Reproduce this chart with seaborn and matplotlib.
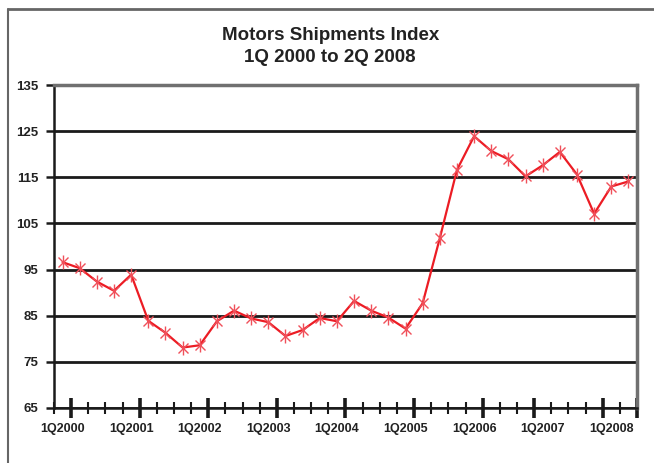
import numpy as np
import pandas as pd
import matplotlib
matplotlib.use('Agg')
import matplotlib.pyplot as plt
from matplotlib.lines import Line2D
import seaborn as sns

# quarterly index, 1Q2000 .. 2Q2008
quarters = ['%dQ%d' % (q, y) for y in range(2000, 2009) for q in range(1, 5)][:34]
index_values = [96.6, 95.3, 92.4, 90.4, 93.9, 83.9, 81.3, 78.1, 78.6, 83.8,
                86.1, 84.4, 83.6, 80.6, 81.9, 84.5, 83.8, 88.2, 86.1, 84.6,
                82.2, 87.7, 101.8, 116.6, 123.9, 120.7, 118.9, 115.2, 117.6, 120.5,
                115.6, 107.1, 113.0, 114.1]
y_ticks = [65, 75, 85, 95, 105, 115, 125, 135]
x_labels = ['1Q2000', '1Q2001', '1Q2002', '1Q2003', '1Q2004',
            '1Q2005', '1Q2006', '1Q2007', '1Q2008']

df = pd.DataFrame({'quarter': quarters, 'pos': np.arange(len(quarters)),
                   'value': index_values})

sns.set_style('white')
plt.rcParams['font.family'] = ['Liberation Sans', 'DejaVu Sans']

fig = plt.figure(figsize=(6.54, 4.63), dpi=100)
ax = fig.add_axes([54 / 654, 55 / 463, 583 / 654, 323 / 463])

red = '#ec1c24'
sns.lineplot(data=df, x='pos', y='value', ax=ax, color=red, lw=1.6,
             marker='x', markersize=7, markeredgecolor='#f0505a',
             markeredgewidth=1.0, zorder=5)
sns.scatterplot(data=df, x='pos', y='value', ax=ax, marker='|', s=90,
                color='#f0505a', linewidth=1.0, zorder=6)

ax.set_xlim(-0.5, len(quarters) - 0.5)
ax.set_ylim(65, 135)
ax.set_yticks(y_ticks)
ax.set_yticklabels([str(v) for v in y_ticks], fontsize=9.5, fontweight='bold',
                   color='#222222')
ax.yaxis.grid(True, color='#1a1a1a', lw=2)
ax.set_axisbelow(True)
ax.tick_params(axis='y', left=True, direction='out', length=6, width=1.8,
               color='#1a1a1a', pad=5)

# category boundaries as ticks, labels on each 1Q point
minor_pos = np.arange(len(quarters) + 1) - 0.5
major_pos = np.array([1, 5, 9, 13, 17, 21, 25, 28, 32, 34]) - 0.5
ax.set_xticks(major_pos)
ax.set_xticklabels([])
ax.set_xticks(minor_pos, minor=True)
ax.tick_params(axis='x', which='major', bottom=True, direction='inout',
               length=14, width=2.6, color='#1a1a1a')
ax.tick_params(axis='x', which='minor', bottom=True, direction='inout',
               length=9, width=1.5, color='#1a1a1a')
for lab in x_labels:
    i = quarters.index(lab)
    ax.text(i, -0.047, lab, transform=ax.get_xaxis_transform(), ha='center',
            va='top', fontsize=9, fontweight='bold', color='#222222')

ax.set_xlabel('')
ax.set_ylabel('')
for side in ['left', 'bottom']:
    ax.spines[side].set_color('#1a1a1a')
    ax.spines[side].set_linewidth(1.8)
for side in ['top', 'right']:
    ax.spines[side].set_color('#707070')
    ax.spines[side].set_linewidth(2.5)

fig.text(0.505, 0.9, 'Motors Shipments Index\n1Q 2000 to 2Q 2008',
         ha='center', va='center', fontsize=13.5, fontweight='bold',
         color='#222222', linespacing=1.35)

# outer chart-area border (partially cut off in the original)
fig.add_artist(Line2D([8 / 654, 1.0], [1 - 9 / 463, 1 - 9 / 463],
                      color='#666666', lw=2, transform=fig.transFigure))
fig.add_artist(Line2D([8 / 654, 8 / 654], [0.0, 1 - 9 / 463],
                      color='#666666', lw=1.5, transform=fig.transFigure))

fig.savefig('out.png', dpi=100)
